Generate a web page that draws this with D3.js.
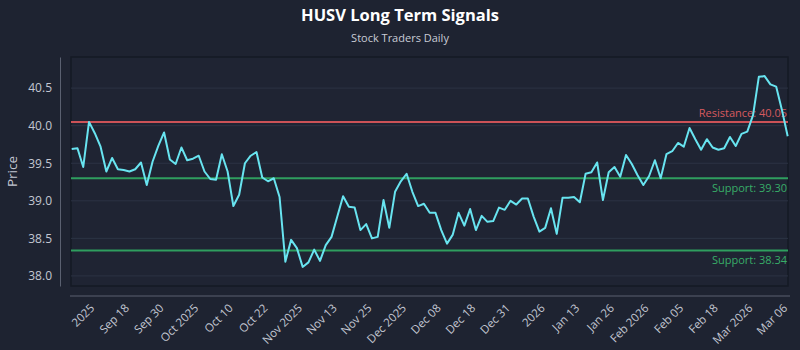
<!DOCTYPE html>
<html>
<head>
<meta charset="utf-8">
<script src="https://cdn.jsdelivr.net/npm/d3@7"></script>
<style>
  html, body { margin: 0; padding: 0; background: #1e2331; }
  svg { display: block; }
</style>
</head>
<body>
<svg id="chart" width="800" height="350"></svg>
<script>
const titleText = "HUSV Long Term Signals";
const subtitleText = "Stock Traders Daily";

const prices = [
  39.69, 39.70, 39.45, 40.05, 39.90, 39.72, 39.39, 39.57, 39.42, 39.41,
  39.39, 39.42, 39.51, 39.21, 39.52, 39.73, 39.91, 39.55, 39.49, 39.71,
  39.54, 39.56, 39.60, 39.39, 39.29, 39.28, 39.62, 39.39, 38.93, 39.08,
  39.50, 39.60, 39.65, 39.31, 39.26, 39.30, 39.05, 38.19, 38.48, 38.37,
  38.12, 38.18, 38.35, 38.20, 38.41, 38.52, 38.79, 39.06, 38.92, 38.91,
  38.61, 38.69, 38.50, 38.52, 39.01, 38.64, 39.12, 39.26, 39.36, 39.12,
  38.93, 38.96, 38.84, 38.84, 38.61, 38.43, 38.55, 38.84, 38.67, 38.89,
  38.61, 38.80, 38.72, 38.73, 38.91, 38.88, 39.00, 38.95, 39.03, 39.03,
  38.79, 38.59, 38.64, 38.90, 38.56, 39.04, 39.04, 39.05, 38.98, 39.36,
  39.38, 39.51, 39.01, 39.38, 39.45, 39.32, 39.61, 39.49, 39.34, 39.21,
  39.33, 39.54, 39.30, 39.62, 39.66, 39.77, 39.72, 39.97, 39.82, 39.68,
  39.82, 39.71, 39.68, 39.70, 39.85, 39.73, 39.89, 39.92, 40.14, 40.65,
  40.66, 40.55, 40.52, 40.21, 39.86
];

const tickLabels = ["2025", "Sep 18", "Sep 30", "Oct 2025", "Oct 10", "Oct 22",
  "Nov 2025", "Nov 13", "Nov 25", "Dec 2025", "Dec 08", "Dec 18", "Dec 31",
  "2026", "Jan 13", "Jan 26", "Feb 2026", "Feb 05", "Feb 18", "Mar 2026", "Mar 06"];
const tickIndices = [4, 10, 16, 22, 28, 34, 40, 46, 52, 58, 64, 70, 76, 82, 88, 94, 100, 106, 112, 118, 124];

const yTicks = [38.0, 38.5, 39.0, 39.5, 40.0, 40.5];

const levelNames = ["Resistance", "Support", "Support"];
const levelValues = [40.05, 39.30, 38.34];

const svg = d3.select("#chart");
const W = 800, H = 350;
const plot = { left: 71, right: 788, top: 57, bottom: 286 };

svg.append("rect").attr("width", W).attr("height", H).attr("fill", "#1e2331");

// Title
svg.append("text").attr("x", 400).attr("y", 21).attr("text-anchor", "middle")
  .attr("font-family", "'Open Sans', sans-serif").attr("font-weight", 700)
  .attr("font-size", 16.5).attr("fill", "#ffffff").text(titleText);
svg.append("text").attr("x", 400).attr("y", 42).attr("text-anchor", "middle")
  .attr("font-family", "'Open Sans', sans-serif")
  .attr("font-size", 11).attr("fill", "#c9ccd6").text(subtitleText);

const x = d3.scaleLinear().domain([0, prices.length - 1]).range([plot.left + 0.7, plot.right - 0.3]);
const ext = d3.extent(prices);
const pad = (ext[1] - ext[0]) * 0.1;
const y = d3.scaleLinear().domain([ext[0] - pad, ext[1] + pad]).range([plot.bottom, plot.top]);

// Plot background / border
svg.append("rect").attr("x", plot.left).attr("y", plot.top)
  .attr("width", plot.right - plot.left).attr("height", plot.bottom - plot.top)
  .attr("fill", "#1f2433").attr("stroke", "#151a25").attr("stroke-width", 1.5);

// Grid lines
svg.append("g").selectAll("line").data(yTicks).join("line")
  .attr("x1", plot.left).attr("x2", plot.right)
  .attr("y1", d => y(d)).attr("y2", d => y(d))
  .attr("stroke", "#2c3344").attr("stroke-width", 1);

// Y axis
const yAxis = svg.append("g").attr("transform", `translate(${plot.left - 11},0)`)
  .call(d3.axisLeft(y).tickValues(yTicks).tickFormat(d3.format(".1f")).tickSize(0).tickPadding(8));
yAxis.select(".domain").attr("stroke", "#5a6070").attr("stroke-width", 1);
yAxis.selectAll("text").attr("font-family", "'Open Sans', sans-serif").attr("font-size", 12).attr("fill", "#c3c7d1");

svg.append("text").attr("transform", `translate(17,${(plot.top + plot.bottom) / 2}) rotate(-90)`)
  .attr("text-anchor", "middle").attr("font-family", "'Open Sans', sans-serif")
  .attr("font-size", 13.5).attr("fill", "#c3c7d1").text("Price");

// X axis
const xAxisY = 296;
const xAxis = svg.append("g").attr("transform", `translate(0,${xAxisY})`)
  .call(d3.axisBottom(x).tickValues(tickIndices).tickFormat((d, i) => tickLabels[i]).tickSize(0));
xAxis.select(".domain").attr("stroke", "#5a6070").attr("stroke-width", 1)
  .attr("d", `M${plot.left - 1},0H${plot.right + 2}`);
xAxis.selectAll("text")
  .attr("font-family", "'Open Sans', sans-serif").attr("font-size", 11.5).attr("fill", "#c3c7d1")
  .attr("text-anchor", "end")
  .attr("transform", "translate(-3,10) rotate(-45)")
  .attr("dy", "0.35em").attr("y", 0).attr("x", 0);

// Level lines
const levelColors = ["#cc5257", "#2f9e5f", "#2f9e5f"];
const labelColors = ["#d65a5f", "#38ad68", "#38ad68"];
levelValues.forEach((v, i) => {
  svg.append("line").attr("x1", plot.left).attr("x2", plot.right)
    .attr("y1", y(v)).attr("y2", y(v))
    .attr("stroke", levelColors[i]).attr("stroke-width", 2);
  const above = i === 0;
  svg.append("text").attr("x", plot.right - 1)
    .attr("y", above ? y(v) - 5 : y(v) + 14)
    .attr("text-anchor", "end").attr("font-family", "'Open Sans', sans-serif")
    .attr("font-size", 11).attr("fill", labelColors[i])
    .text(`${levelNames[i]}: ${v.toFixed(2)}`);
});

// Price line
const line = d3.line().x((d, i) => x(i)).y(d => y(d));
svg.append("path").datum(prices).attr("d", line)
  .attr("fill", "none").attr("stroke", "#68e4f0").attr("stroke-width", 2)
  .attr("stroke-linejoin", "round");
</script>
</body>
</html>
